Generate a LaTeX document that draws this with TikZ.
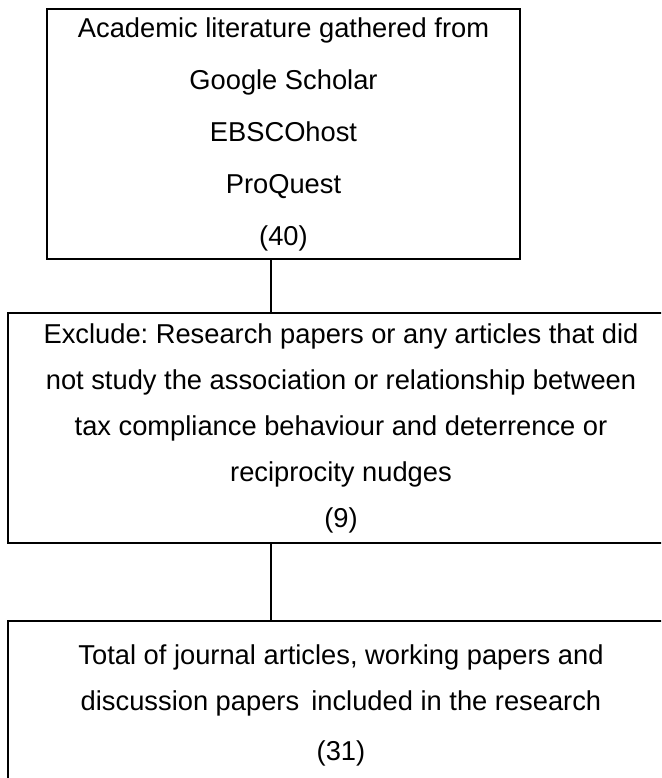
\documentclass[tikz,border=0pt]{standalone}
\usepackage{fontspec}
\setmainfont{Liberation Sans}
\frenchspacing
\begin{document}
\begin{tikzpicture}[x=1pt,y=1pt,
  box/.style={draw=black, line width=2.2pt, rectangle, inner sep=0pt, align=center, anchor=center},
  link/.style={draw=black, line width=2.2pt}]
\useasboundingbox (0,0) rectangle (661,-778);
\clip (0,0) rectangle (661,-778);
\node[box, minimum width=473pt, minimum height=250pt,
  font=\fontsize{27.3}{52}\selectfont\frenchspacing] (b1) at (283.5,-134)
  {Academic literature gathered from\\Google Scholar\\EBSCOhost\\ProQuest\\(40)};
\node[box, minimum width=666pt, minimum height=230pt,
  font=\fontsize{27.3}{46}\selectfont\frenchspacing] (b2) at (341,-428)
  {Exclude: Research papers or any articles that did\\not study the association or relationship between\\tax compliance behaviour and deterrence or\\reciprocity nudges\\(9)};
\node[box, minimum width=666pt, minimum height=168pt,
  font=\fontsize{27.3}{46}\selectfont\frenchspacing] (b3) at (341,-705)
  {Total of journal articles, working papers and\\discussion papers\, included in the research\\[4pt](31)};
\coordinate (cx) at (271,0);
\draw[link] (b1.south -| cx) -- (b2.north -| cx);
\draw[link] (b2.south -| cx) -- (b3.north -| cx);
\end{tikzpicture}
\end{document}
